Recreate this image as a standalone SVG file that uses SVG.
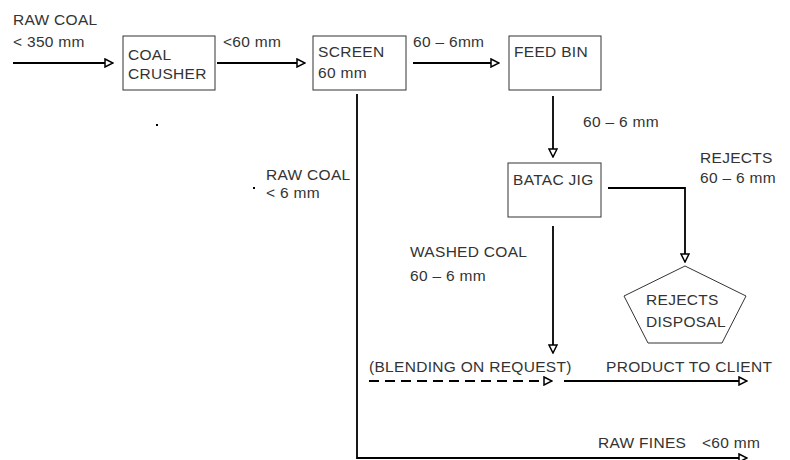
<svg xmlns="http://www.w3.org/2000/svg" width="790" height="460" viewBox="0 0 790 460">
<style>
text{font-family:"Liberation Sans",Arial,sans-serif;font-size:15.5px;fill:#333;letter-spacing:0.3px}
.box{fill:#fff;stroke:#333;stroke-width:1}
.ln{fill:none;stroke:#000;stroke-width:1.8}
.dash{stroke-dasharray:10 6}
</style>
<defs>
<marker id="ah" viewBox="0 0 10 10" refX="9" refY="5" markerWidth="10" markerHeight="10" markerUnits="userSpaceOnUse" orient="auto">
<path d="M1,1 L9,5 L1,9 Z" fill="#fff" stroke="#000" stroke-width="1.5"/>
</marker>
</defs>
<rect width="790" height="460" fill="#fff"/>
<g id="connectors">
<line class="ln" x1="13" y1="63" x2="113" y2="63" marker-end="url(#ah)"/>
<line class="ln" x1="217" y1="63" x2="305" y2="63" marker-end="url(#ah)"/>
<line class="ln" x1="413" y1="63" x2="499" y2="63" marker-end="url(#ah)"/>
<line class="ln" x1="553" y1="96" x2="553" y2="157" marker-end="url(#ah)"/>
<path class="ln" d="M608,188 H685 V262" marker-end="url(#ah)"/>
<line class="ln" x1="553" y1="226" x2="553" y2="353" marker-end="url(#ah)"/>
<line class="ln dash" x1="369" y1="381" x2="552" y2="381" marker-end="url(#ah)"/>
<line class="ln" x1="564" y1="381" x2="747" y2="381" marker-end="url(#ah)"/>
<path class="ln" d="M357,94 V458 H747" marker-end="url(#ah)"/>
</g>
<g id="labels">
<text x="13" y="25">RAW COAL</text>
<text x="13" y="47">&lt; 350 mm</text>
<text x="223" y="47">&lt;60 mm</text>
<text x="413" y="47">60 – 6mm</text>
<text x="583" y="127">60 – 6 mm</text>
<text x="266" y="180">RAW COAL</text>
<text x="266" y="198">&lt; 6 mm</text>
<text x="700" y="163">REJECTS</text>
<text x="700" y="183">60 – 6 mm</text>
<text x="410" y="257">WASHED COAL</text>
<text x="410" y="281">60 – 6 mm</text>
<text x="369" y="372">(BLENDING ON REQUEST)</text>
<text x="606" y="372">PRODUCT TO CLIENT</text>
<text x="598" y="448">RAW FINES</text>
<text x="702" y="448">&lt;60 mm</text>
<rect x="156" y="124" width="2" height="2" fill="#000"/>
<rect x="253" y="187" width="2" height="2" fill="#000"/>
</g>
<g id="coal-crusher">
<rect class="box" x="123" y="36" width="92" height="54"/>
<text x="128" y="60">COAL</text>
<text x="128" y="79">CRUSHER</text>
</g>
<g id="screen">
<rect class="box" x="313" y="36" width="93" height="54"/>
<text x="318" y="57">SCREEN</text>
<text x="318" y="78">60 mm</text>
</g>
<g id="feed-bin">
<rect class="box" x="509" y="36" width="92" height="54"/>
<text x="514" y="57">FEED BIN</text>
</g>
<g id="batac-jig">
<rect class="box" x="508" y="163" width="93" height="54"/>
<text x="513" y="185">BATAC JIG</text>
</g>
<g id="rejects-disposal">
<polygon class="box" points="685,266 746,296 722,343 648,343 624,296"/>
<text x="646" y="305">REJECTS</text>
<text x="646" y="327">DISPOSAL</text>
</g>
</svg>
